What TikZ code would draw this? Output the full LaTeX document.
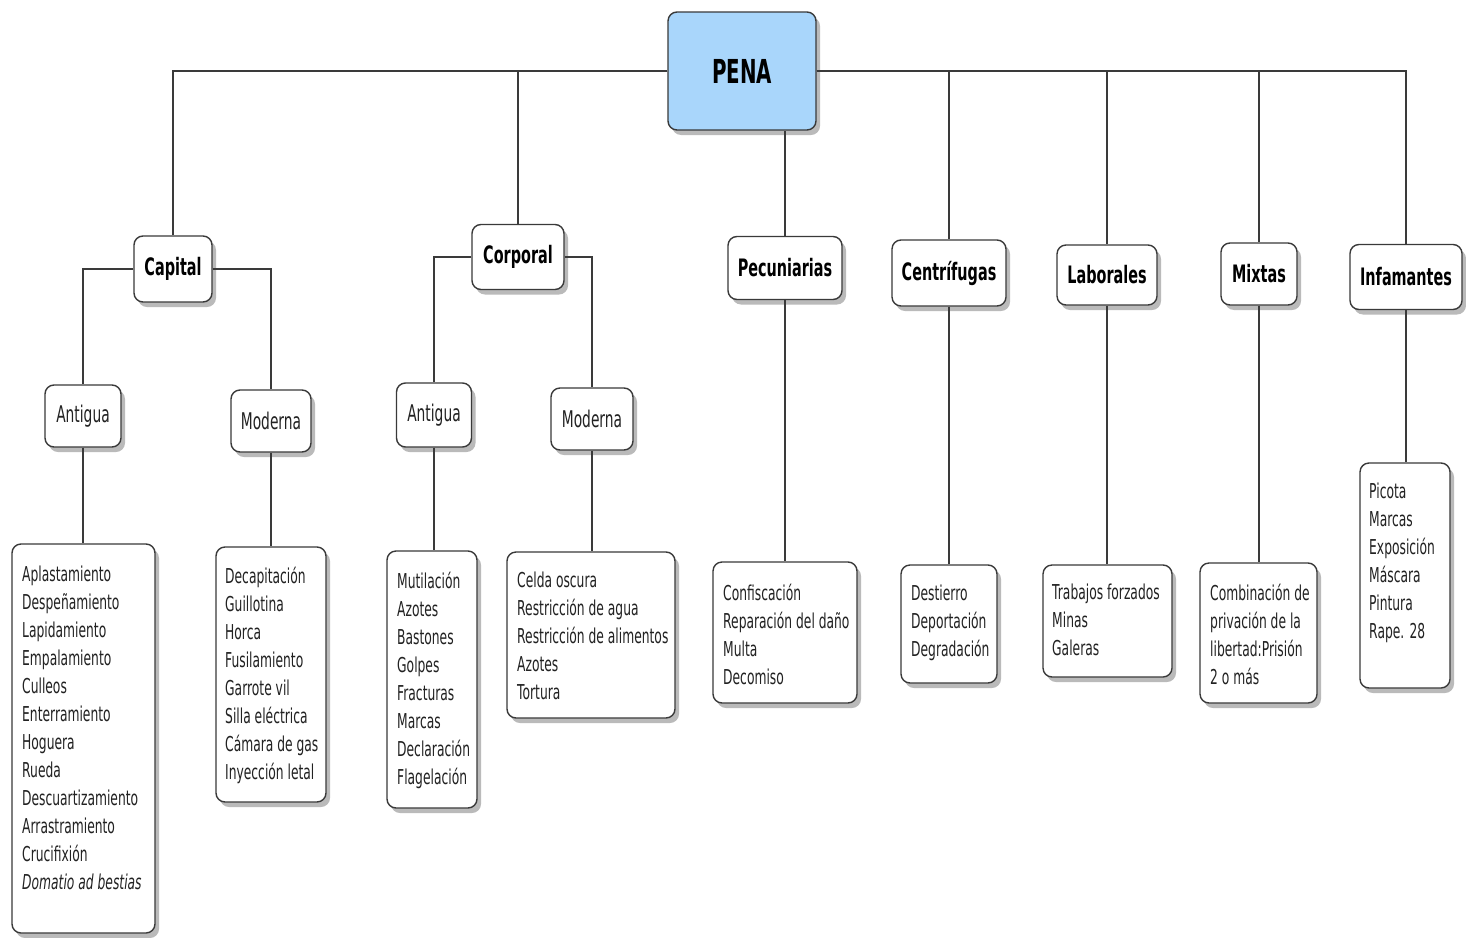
\documentclass[tikz,border=0pt]{standalone}
\usepackage{fontspec}
\setmainfont{DejaVu Sans}[FakeStretch=0.6]
\usetikzlibrary{shadows}
\definecolor{penablue}{HTML}{A9D6FB}
\definecolor{edgec}{HTML}{3A3A3A}
\definecolor{txtc}{HTML}{222222}
\begin{document}
\begin{tikzpicture}[x=1pt,y=-1pt,
  box/.style={draw=edgec, line width=1.4pt, rounded corners=9pt, fill=white,
    drop shadow={shadow xshift=4pt, shadow yshift=-5pt, fill=black!45, opacity=0.6}, inner sep=0pt},
  hdr/.style={box, font=\bfseries\fontsize{24}{28}\selectfont, text=black},
  sub/.style={box, font=\fontsize{23}{28}\selectfont, text=txtc},
  lst/.style={box},
  txt/.style={anchor=north west, inner sep=0pt, align=left, font=\fontsize{20.5}{28}\selectfont, text=txtc},
  conn/.style={draw=edgec, line width=1.4pt}]
\useasboundingbox[fill=white] (0,0) rectangle (1466,937);

% root
\node[hdr, fill=penablue, minimum width=148pt, minimum height=118pt, font=\bfseries\fontsize{33}{36}\selectfont] (pena) at (742,71) {PENA};

% level 1
\node[hdr, minimum width=78pt, minimum height=66pt] (cap) at (173,269) {Capital};
\node[hdr, minimum width=92pt, minimum height=65pt] (cor) at (518,257) {Corporal};
\node[hdr, minimum width=114pt, minimum height=63pt] (pec) at (785,268) {Pecuniarias};
\node[hdr, minimum width=114pt, minimum height=66pt] (cen) at (949,273) {Centrífugas};
\node[hdr, minimum width=100pt, minimum height=60pt] (lab) at (1107,275) {Laborales};
\node[hdr, minimum width=76pt, minimum height=62pt] (mix) at (1259,274) {Mixtas};
\node[hdr, minimum width=112pt, minimum height=65pt] (inf) at (1406,277) {Infamantes};

% level 2
\node[sub, minimum width=76pt, minimum height=62pt] (capA) at (83,416) {Antigua};
\node[sub, minimum width=80pt, minimum height=62pt] (capM) at (271,421) {Moderna};
\node[sub, minimum width=75pt, minimum height=64pt] (corA) at (434,415) {Antigua};
\node[sub, minimum width=82pt, minimum height=62pt] (corM) at (592,419) {Moderna};

% list boxes
\node[lst, minimum width=143pt, minimum height=389pt] (capAL) at (83.5,738.5) {};
\node[lst, minimum width=110pt, minimum height=255pt] (capML) at (271,674.5) {};
\node[lst, minimum width=90pt, minimum height=257pt] (corAL) at (432,679.5) {};
\node[lst, minimum width=168pt, minimum height=166pt] (corML) at (591,635) {};
\node[lst, minimum width=144pt, minimum height=141pt] (pecL) at (785,632.5) {};
\node[lst, minimum width=96pt, minimum height=118pt] (cenL) at (949,624) {};
\node[lst, minimum width=129pt, minimum height=112pt] (labL) at (1107.5,621) {};
\node[lst, minimum width=117pt, minimum height=140pt] (mixL) at (1258.5,633) {};
\node[lst, minimum width=90pt, minimum height=225pt] (infL) at (1405,575.5) {};

% list texts
\node[txt] (capAT) at (22,566) {Aplastamiento\\Despeñamiento\\Lapidamiento\\Empalamiento\\Culleos\\Enterramiento\\Hoguera\\Rueda\\Descuartizamiento\\Arrastramiento\\Crucifixión\\\textit{Domatio ad bestias}};
\node[txt] (capMT) at (225,567) {Decapitación\\Guillotina\\Horca\\Fusilamiento\\Garrote vil\\Silla eléctrica\\Cámara de gas\\Inyección letal};
\node[txt] (corAT) at (397,572) {Mutilación\\Azotes\\Bastones\\Golpes\\Fracturas\\Marcas\\Declaración\\Flagelación};
\node[txt] (corMT) at (517,572) {Celda oscura\\Restricción de agua\\Restricción de alimentos\\Azotes\\Tortura};
\node[txt] (pecT) at (723,584) {Confiscación\\Reparación del daño\\Multa\\Decomiso};
\node[txt] (cenT) at (911,585) {Destierro\\Deportación\\Degradación};
\node[txt] (labT) at (1052,584) {Trabajos forzados\\Minas\\Galeras};
\node[txt] (mixT) at (1210,584) {Combinación de\\privación de la\\libertad:Prisión\\2 o más};
\node[txt] (infT) at (1369,483) {Picota\\Marcas\\Exposición\\Máscara\\Pintura\\Rape. 28};

% connectors
\draw[conn] (pena.west) -| (cap.north);
\draw[conn] (pena.west) -| (cor.north);
\draw[conn] (pec.north) -- (pec.north |- pena.south);
\draw[conn] (pena.east) -| (cen.north);
\draw[conn] (pena.east) -| (lab.north);
\draw[conn] (pena.east) -| (mix.north);
\draw[conn] (pena.east) -| (inf.north);

\draw[conn] (cap.west) -| (capA.north);
\draw[conn] (cap.east) -| (capM.north);
\draw[conn] (cor.west) -| (corA.north);
\draw[conn] (cor.east) -| (corM.north);

\draw[conn] (capA.south) -- (capA.south |- capAL.north);
\draw[conn] (capM.south) -- (capM.south |- capML.north);
\draw[conn] (corA.south) -- (corA.south |- corAL.north);
\draw[conn] (corM.south) -- (corM.south |- corML.north);
\draw[conn] (pec.south) -- (pec.south |- pecL.north);
\draw[conn] (cen.south) -- (cen.south |- cenL.north);
\draw[conn] (lab.south) -- (lab.south |- labL.north);
\draw[conn] (mix.south) -- (mix.south |- mixL.north);
\draw[conn] (inf.south) -- (inf.south |- infL.north);
\end{tikzpicture}
\end{document}
